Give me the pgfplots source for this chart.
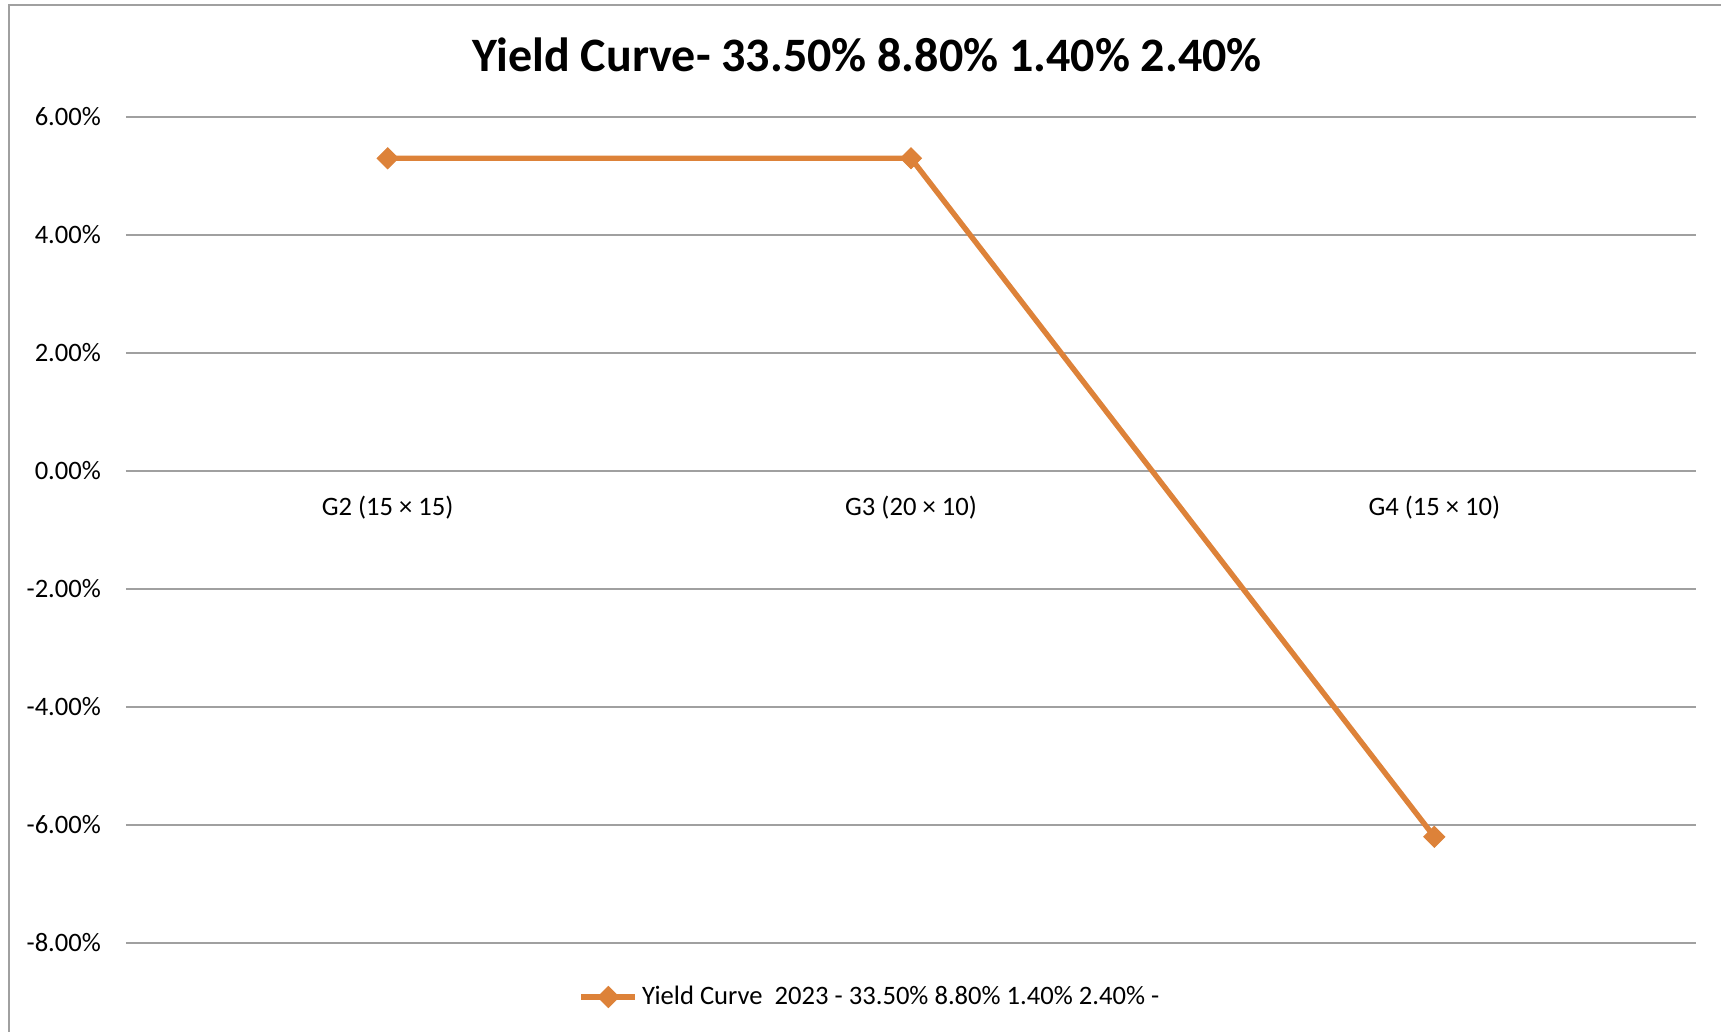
\documentclass[border=0pt]{standalone}
\usepackage{fontspec}
\setmainfont{Carlito}
\usepackage{pgfplots}
\pgfplotsset{compat=1.18}
\definecolor{ycorange}{RGB}{221,130,57}
\definecolor{gridgray}{RGB}{160,160,160}
\begin{document}
\begin{tikzpicture}[x=1pt,y=1pt]
\useasboundingbox (0,0) rectangle (860.5,516);
\draw[overlay, gridgray, line width=1pt] (4.25,-20) -- (4.25,513.25) -- (900,513.25);
\begin{axis}[
  at={(63pt,44.5pt)}, anchor=south west,
  scale only axis, width=785pt, height=413pt,
  xmin=-0.5, xmax=2.5, ymin=-8, ymax=6,
  axis x line=middle, axis y line=left,
  axis line style={-},
  x axis line style={gridgray, line width=1pt},
  y axis line style={draw=none},
  hide obscured x ticks=false, hide obscured y ticks=false,
  xtick={0,1,2},
  xticklabels={G2 (15 × 15), G3 (20 × 10), G4 (15 × 10)},
  ytick={-8,-6,-4,-2,0,2,4,6},
  major tick length=0pt,
  ymajorgrids, grid style={gridgray, line width=1pt},
  /pgf/number format/assume math mode=true,
  yticklabel={\pgfmathprintnumber[fixed,fixed zerofill,precision=2]{\tick}\%},
  ticklabel style={font=\fontsize{13.3}{16}\selectfont, text=black},
  yticklabel style={xshift=-9pt},
  xticklabel style={yshift=-9pt},
  legend style={at={(0.4745,-0.0654)}, anchor=center, draw=none, fill=none,
    font=\fontsize{13.3}{16}\selectfont, inner sep=0pt},
  legend image code/.code={\draw[mark repeat=2,mark phase=2] plot coordinates {(0pt,0pt)(13.5pt,0pt)(27pt,0pt)};},
]
\addplot[color=ycorange, line width=2.7pt, mark=square*, mark size=3.7pt,
  mark options={rotate=45, solid, fill=ycorange, draw=ycorange, line width=0.5pt}]
  coordinates {(0,5.30) (1,5.30) (2,-6.20)};
\addlegendentry{Yield Curve\ \ 2023 - 33.50\% 8.80\% 1.40\% 2.40\% -}
\end{axis}
\node[anchor=base, font=\bfseries\fontsize{24}{29}\selectfont] at (433.5,480) {Yield Curve- 33.50\% 8.80\% 1.40\% 2.40\%};
\end{tikzpicture}
\end{document}
